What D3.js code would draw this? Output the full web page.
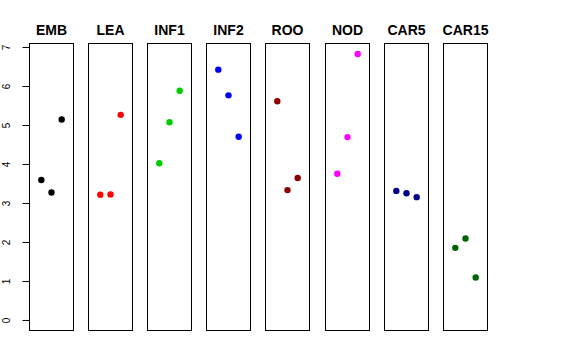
<!DOCTYPE html>
<html>
<head>
<meta charset="utf-8">
<script src="https://cdn.jsdelivr.net/npm/d3@7"></script>
<style>
  body { margin: 0; background: #fff; }
  text { font-family: "Liberation Sans", Arial, sans-serif; }
</style>
</head>
<body>
<script>
// groups, one panel each
var groups = ["EMB", "LEA", "INF1", "INF2", "ROO", "NOD", "CAR5", "CAR15"];
var colors = ["#000000", "#ff0000", "#00cd00", "#0000ff", "#8b0000", "#ff00ff", "#00008b", "#006400"];
// three values per group
var values = [
  [3.59, 3.27, 5.14],
  [3.21, 3.22, 5.26],
  [4.02, 5.07, 5.88],
  [6.42, 5.76, 4.70],
  [5.61, 3.33, 3.64],
  [3.75, 4.69, 6.82],
  [3.31, 3.25, 3.15],
  [1.85, 2.09, 1.09]
];
var yTicks = [0, 1, 2, 3, 4, 5, 6, 7];

var width = 576, height = 360;
var plotTop = 43.5, plotBottom = 330.5;
var panelW = 44, step = 59.1, left0 = 29.5;

var svg = d3.select("body").append("svg")
            .attr("width", width)
            .attr("height", height);

var y = d3.scaleLinear()
          .domain([-0.27, 7.09])
          .range([plotBottom, plotTop]);

var x = d3.scaleLinear()
          .domain([-0.16, 4.16])
          .range([0, panelW]);

// y axis on the left of the first panel
var yAxis = svg.append("g")
               .attr("transform", "translate(" + left0 + ",0)")
               .call(d3.axisLeft(y).tickValues(yTicks).tickSize(7).tickFormat(d3.format("d")));
yAxis.select(".domain").remove();
yAxis.selectAll("line").attr("stroke", "#000");
yAxis.selectAll("text")
     .attr("transform", "rotate(-90)")
     .attr("x", 0)
     .attr("y", -19.5)
     .attr("dy", null)
     .attr("text-anchor", "middle")
     .attr("fill", "#000")
     .style("font-size", "10px")
     .style("font-family", "Liberation Sans, Arial, sans-serif");

for (var i = 0; i < groups.length; i++) {
  var px = Math.round(left0 + i * step - 0.5) + 0.5;
  var g = svg.append("g").attr("transform", "translate(" + px + ",0)");

  g.append("rect")
   .attr("x", 0)
   .attr("y", plotTop)
   .attr("width", panelW)
   .attr("height", plotBottom - plotTop)
   .attr("fill", "none")
   .attr("stroke", "#000")
   .attr("stroke-width", 1);

  g.append("text")
   .attr("x", panelW / 2)
   .attr("y", 34.5)
   .attr("text-anchor", "middle")
   .style("font-size", "14px")
   .style("font-weight", "bold")
   .text(groups[i]);

  g.selectAll("circle")
   .data(values[i])
   .enter()
   .append("circle")
   .attr("cx", function(d, j) { return x(j + 1); })
   .attr("cy", function(d) { return y(d); })
   .attr("r", 3.2)
   .attr("fill", colors[i]);
}
</script>
</body>
</html>
